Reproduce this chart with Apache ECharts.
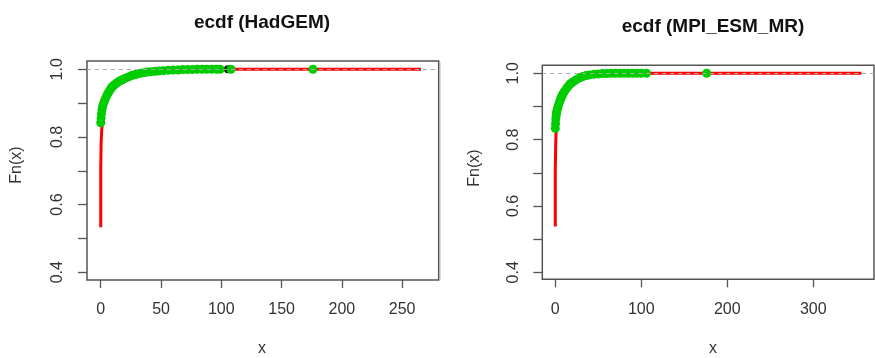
<!DOCTYPE html>
<html>
<head>
<meta charset="utf-8">
<script src="https://cdn.jsdelivr.net/npm/echarts@6/dist/echarts.min.js"></script>
<style>html,body{margin:0;padding:0;background:#fff}#c{width:875px;height:358px}</style>
</head>
<body>
<div id="c"></div>
<script>
// ---- Data ----
const titleL = "ecdf (HadGEM)";
const titleR = "ecdf (MPI_ESM_MR)";
const xTicksL = [0, 50, 100, 150, 200, 250];
const xTicksR = [0, 100, 200, 300];
const yTicks = [0.4, 0.5, 0.6, 0.7, 0.8, 0.9, 1.0];
const yLabels = [0.4, 0.6, 0.8, 1.0];

// left panel (HadGEM)
const redXL = [0, 0, 0.3, 0.8, 1.5, 2.2, 3.5, 6, 9, 13, 18, 25, 33, 45, 60, 80, 100, 265.6];
const redYL = [0.533, 0.70, 0.78, 0.82, 0.845, 0.868, 0.895, 0.925, 0.945, 0.960, 0.971, 0.982, 0.989, 0.994, 0.997, 0.999, 1.0, 1.0];
const greenXL = [0, 0.3, 0.6, 1, 1.5, 2, 3, 4, 5, 6, 7, 8, 9, 10, 11, 12, 13, 14, 16, 18, 20, 22, 24, 26, 28, 30, 33, 36, 39, 42, 45, 48, 52, 56, 60, 64, 68, 72, 76, 80, 84, 88, 92, 96, 99, 108, 176];
const greenYL = [0.842, 0.855, 0.868, 0.880, 0.889, 0.896, 0.905, 0.914, 0.922, 0.929, 0.935, 0.941, 0.946, 0.950, 0.953, 0.956, 0.959, 0.962, 0.966, 0.969, 0.973, 0.976, 0.979, 0.982, 0.984, 0.986, 0.988, 0.990, 0.992, 0.993, 0.994, 0.995, 0.996, 0.997, 0.998, 0.998, 0.999, 0.999, 0.999, 1.0, 1.0, 1.0, 1.0, 1.0, 1.0, 1.0, 1.0];
const blackXL = [105.5];
const blackYL = [1.0];

// right panel (MPI_ESM_MR)
const redXR = [0, 0, 0.5, 1.0, 1.5, 3, 6, 10, 16, 24, 34, 48, 70, 100, 356];
const redYR = [0.538, 0.70, 0.79, 0.825, 0.85, 0.88, 0.918, 0.948, 0.968, 0.982, 0.991, 0.996, 0.999, 1.0, 1.0];
const greenXR = [0, 0.3, 0.6, 1, 1.5, 2, 3, 4, 5, 6, 7, 8, 9, 10, 12, 14, 16, 18, 20, 23, 26, 29, 32, 36, 40, 45, 50, 55, 60, 65, 70, 75, 80, 85, 90, 95, 100, 106, 176];
const greenYR = [0.834, 0.848, 0.862, 0.872, 0.881, 0.888, 0.897, 0.906, 0.914, 0.921, 0.927, 0.933, 0.938, 0.943, 0.950, 0.958, 0.964, 0.969, 0.973, 0.978, 0.983, 0.987, 0.990, 0.993, 0.995, 0.997, 0.998, 0.999, 0.999, 1.0, 1.0, 1.0, 1.0, 1.0, 1.0, 1.0, 1.0, 1.0, 1.0];

const zip = (xs, ys) => xs.map((x, i) => [x, ys[i]]);
const FONT = "'Liberation Sans', Arial, sans-serif";
const AX = '#555';
const TXT = '#333';

function xAxis(gi, min, max, ticks) {
  return {
    type: 'value', gridIndex: gi, min: min, max: max, position: 'bottom',
    axisLine: {show: false, onZero: false},
    splitLine: {show: false},
    axisTick: {show: true, inside: false, length: 8, customValues: ticks, lineStyle: {color: AX, width: 1.3}},
    axisLabel: {customValues: ticks, color: TXT, fontSize: 16, fontFamily: FONT, margin: 22}
  };
}
function yAxis(gi, min, max) {
  return {
    type: 'value', gridIndex: gi, min: min, max: max, position: 'left',
    axisLine: {show: false, onZero: false},
    splitLine: {show: false},
    axisTick: {show: true, inside: false, length: 9, customValues: yTicks, lineStyle: {color: AX, width: 1.3}},
    axisLabel: {customValues: yLabels, color: TXT, fontSize: 16, fontFamily: FONT, rotate: 90, margin: 21,
      formatter: v => Number(v).toFixed(1)}
  };
}
const refLine = {
  silent: true, symbol: 'none', label: {show: false},
  lineStyle: {color: '#aaa', type: [4, 4], width: 1},
  data: [{yAxis: 1}]
};
function panel(gi, rx, ry, gx, gy, bx, by) {
  const s = [
    {type: 'line', xAxisIndex: gi, yAxisIndex: gi, data: zip(rx, ry), showSymbol: false, symbol: 'none',
     lineStyle: {color: '#ff0000', width: 3}, z: 2, silent: true}
  ];
  if (bx) s.push({type: 'scatter', xAxisIndex: gi, yAxisIndex: gi, data: zip(bx, by), symbolSize: 8,
     itemStyle: {color: '#111', opacity: 1}, z: 3, silent: true});
  s.push({type: 'scatter', xAxisIndex: gi, yAxisIndex: gi, data: zip(gx, gy), symbolSize: 9,
     itemStyle: {color: '#00cd00', opacity: 1}, z: 4, silent: true, markLine: refLine});
  return s;
}

const chart = echarts.init(document.getElementById('c'), null, {renderer: 'canvas'});
chart.setOption({
  animation: false,
  backgroundColor: '#fff',
  grid: [
    {left: 87, top: 61, width: 351.7, height: 219, show: true, borderColor: AX, borderWidth: 1.5},
    {left: 542.3, top: 65.3, width: 331.7, height: 214, show: true, borderColor: AX, borderWidth: 1.5}
  ],
  xAxis: [xAxis(0, -11.4, 280.3, xTicksL), xAxis(1, -15.1, 370.6, xTicksR)],
  yAxis: [yAxis(0, 0.377, 1.0245), yAxis(1, 0.379, 1.024)],
  series: [].concat(
    panel(0, redXL, redYL, greenXL, greenYL, blackXL, blackYL),
    panel(1, redXR, redYR, greenXR, greenYR, null, null)
  ),
  graphic: [
    {type: 'line', shape: {x1: 440.5, y1: 62, x2: 440.5, y2: 280}, style: {stroke: '#ddd', lineWidth: 1}, silent: true},
    {type: 'text', x: 262, y: 23, style: {text: titleL, font: 'bold 19px ' + FONT, fill: '#111', textAlign: 'center', textVerticalAlign: 'middle'}},
    {type: 'text', x: 713, y: 27, style: {text: titleR, font: 'bold 19px ' + FONT, fill: '#111', textAlign: 'center', textVerticalAlign: 'middle'}},
    {type: 'text', x: 17, y: 165, rotation: Math.PI / 2, style: {text: 'Fn(x)', font: '16px ' + FONT, fill: TXT, textAlign: 'center', textVerticalAlign: 'middle'}},
    {type: 'text', x: 475, y: 168, rotation: Math.PI / 2, style: {text: 'Fn(x)', font: '16px ' + FONT, fill: TXT, textAlign: 'center', textVerticalAlign: 'middle'}},
    {type: 'text', x: 262, y: 349, style: {text: 'x', font: '16px ' + FONT, fill: TXT, textAlign: 'center', textVerticalAlign: 'middle'}},
    {type: 'text', x: 713, y: 349, style: {text: 'x', font: '16px ' + FONT, fill: TXT, textAlign: 'center', textVerticalAlign: 'middle'}}
  ]
});
</script>
</body>
</html>
